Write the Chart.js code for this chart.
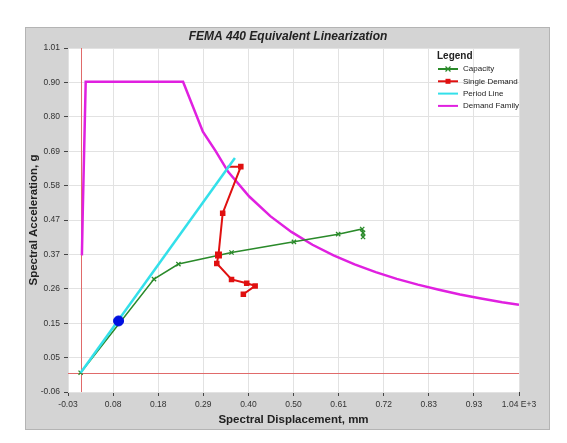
<!DOCTYPE html>
<html>
<head>
<meta charset="utf-8">
<script src="https://cdn.jsdelivr.net/npm/chart.js@4/dist/chart.umd.min.js"></script>
<style>
  html, body { margin: 0; padding: 0; background: #fff; }
  #c { display: block; }
</style>
</head>
<body>
<canvas id="c" width="567" height="443"></canvas>
<script>
// values
const xTickLabels = ['-0.03', '0.08', '0.18', '0.29', '0.40', '0.50', '0.61', '0.72', '0.83', '0.93', '1.04 E+3'];
const yTickLabels = ['-0.06', '0.05', '0.15', '0.26', '0.37', '0.47', '0.58', '0.69', '0.80', '0.90', '1.01'];

const capacityX = [0, 0.174, 0.232, 0.358, 0.506, 0.611, 0.668, 0.670, 0.670];
const capacityY = [0, 0.291, 0.338, 0.374, 0.407, 0.431, 0.447, 0.435, 0.422];

const demandX = [0.348, 0.380, 0.337, 0.327, 0.323, 0.358, 0.394, 0.414, 0.386];
const demandY = [0.641, 0.641, 0.496, 0.366, 0.340, 0.290, 0.278, 0.270, 0.244];

const periodX = [0, 0.366];
const periodY = [0, 0.668];

const perfX = [0.09];
const perfY = [0.161];

const familyX = [0.003, 0.005, 0.012, 0.243, 0.29, 0.32, 0.35, 0.40, 0.45, 0.50, 0.55, 0.60, 0.65, 0.70, 0.75, 0.80, 0.85, 0.90, 0.95, 1.00, 1.04];
const familyY = [0.365, 0.50, 0.905, 0.905, 0.75, 0.69, 0.625, 0.548, 0.487, 0.438, 0.398, 0.365, 0.337, 0.313, 0.292, 0.274, 0.258, 0.243, 0.231, 0.219, 0.211];

const xMin = -0.03, xMax = 1.04;
const yMin = -0.06, yMax = 1.01;

const toPoints = (xs, ys) => xs.map((x, i) => ({ x: x, y: ys[i] }));
const FONT = "'Liberation Sans', Arial, sans-serif";

const GREEN = '#2a8a2a', RED = '#e01010', CYAN = '#33e0ea', MAGENTA = '#e020e0';

const frame = {
    id: 'frame',
    beforeDraw(chart) {
        const ctx = chart.ctx, a = chart.chartArea;
        ctx.save();
        ctx.fillStyle = '#ffffff';
        ctx.fillRect(0, 0, chart.width, chart.height);
        ctx.fillStyle = '#d4d4d4';
        ctx.fillRect(25, 27, 525, 403);
        ctx.strokeStyle = '#b4b4b4';
        ctx.lineWidth = 1;
        ctx.strokeRect(25.5, 27.5, 524, 402);
        ctx.fillStyle = '#ffffff';
        ctx.fillRect(a.left, a.top, a.right - a.left, a.bottom - a.top);
        ctx.restore();
    },
    beforeDatasetsDraw(chart) {
        // red zero lines
        const ctx = chart.ctx, a = chart.chartArea;
        const x0 = Math.round(chart.scales.x.getPixelForValue(0)) + 0.5;
        const y0 = Math.round(chart.scales.y.getPixelForValue(0)) + 0.5;
        ctx.save();
        ctx.strokeStyle = '#e06a6a';
        ctx.lineWidth = 1;
        ctx.beginPath();
        ctx.moveTo(x0, a.top); ctx.lineTo(x0, a.bottom);
        ctx.moveTo(a.left, y0); ctx.lineTo(a.right, y0);
        ctx.stroke();
        ctx.restore();
    },
    afterDraw(chart) {
        const ctx = chart.ctx, a = chart.chartArea;
        ctx.save();
        ctx.fillStyle = '#222';
        ctx.textAlign = 'center';
        ctx.textBaseline = 'middle';
        ctx.font = 'italic bold 12px ' + FONT;
        ctx.fillText('FEMA 440 Equivalent Linearization', 288, 37);
        ctx.font = 'bold 11.5px ' + FONT;
        ctx.fillText('Spectral Displacement, mm', (a.left + a.right) / 2, 420);
        ctx.translate(34, (a.top + a.bottom) / 2);
        ctx.rotate(-Math.PI / 2);
        ctx.fillText('Spectral Acceleration, g', 0, 0);
        ctx.restore();

        // legend
        ctx.save();
        ctx.textAlign = 'left';
        ctx.textBaseline = 'middle';
        ctx.fillStyle = '#222';
        ctx.font = 'bold 10px ' + FONT;
        ctx.fillText('Legend', 437, 56);
        ctx.font = '8px ' + FONT;
        chart.data.datasets.slice(0, 4).forEach((ds, i) => {
            const y = 69 + i * 12.3;
            ctx.strokeStyle = ds.borderColor;
            ctx.lineWidth = 2;
            ctx.beginPath();
            ctx.moveTo(438, y); ctx.lineTo(458, y);
            ctx.stroke();
            if (ds.pointStyle === 'crossRot') {
                ctx.lineWidth = 1.2;
                ctx.beginPath();
                ctx.moveTo(445.5, y - 2.5); ctx.lineTo(450.5, y + 2.5);
                ctx.moveTo(445.5, y + 2.5); ctx.lineTo(450.5, y - 2.5);
                ctx.stroke();
            } else if (ds.pointStyle === 'rect') {
                ctx.fillStyle = ds.borderColor;
                ctx.fillRect(445.5, y - 2.5, 5, 5);
            }
            ctx.fillStyle = '#222';
            ctx.fillText(ds.label, 463, y);
        });
        ctx.restore();
    }
};

function evenTicks(min, max) {
    return scale => {
        scale.ticks = [];
        for (let i = 0; i <= 10; i++) scale.ticks.push({ value: min + i * (max - min) / 10 });
    };
}

new Chart(document.getElementById('c'), {
    type: 'scatter',
    data: {
        datasets: [
            {
                label: 'Capacity',
                data: toPoints(capacityX, capacityY),
                showLine: true,
                borderColor: GREEN,
                backgroundColor: GREEN,
                borderWidth: 1.5,
                pointStyle: 'crossRot',
                pointRadius: 3,
                pointBorderWidth: 1.3,
                order: 3
            },
            {
                label: 'Single Demand',
                data: toPoints(demandX, demandY),
                showLine: true,
                borderColor: RED,
                backgroundColor: RED,
                borderWidth: 2,
                pointStyle: 'rect',
                pointRadius: [0, 2.5, 2.5, 3.5, 2.5, 2.5, 2.5, 2.5, 2.5],
                order: 2
            },
            {
                label: 'Period Line',
                data: toPoints(periodX, periodY),
                showLine: true,
                borderColor: CYAN,
                backgroundColor: CYAN,
                borderWidth: 2.5,
                pointRadius: 0,
                order: 1
            },
            {
                label: 'Demand Family',
                data: toPoints(familyX, familyY),
                showLine: true,
                borderColor: MAGENTA,
                backgroundColor: MAGENTA,
                borderWidth: 2.5,
                pointRadius: 0,
                order: 4
            },
            {
                label: 'Performance Point',
                data: toPoints(perfX, perfY),
                showLine: false,
                borderColor: '#0010e0',
                backgroundColor: '#0010e0',
                pointRadius: 5,
                order: 0
            }
        ]
    },
    options: {
        responsive: false,
        animation: false,
        layout: { padding: { left: 0, top: 48, right: 48, bottom: 0 } },
        plugins: {
            legend: { display: false },
            title: { display: false },
            tooltip: { enabled: false }
        },
        scales: {
            x: {
                type: 'linear',
                min: xMin,
                max: xMax,
                afterBuildTicks: evenTicks(xMin, xMax),
                afterFit: s => { s.height = 51; },
                border: { display: false },
                grid: { color: '#e2e2e2', tickColor: '#444', tickLength: 4 },
                ticks: {
                    font: { family: FONT, size: 8.5 },
                    color: '#333',
                    padding: 4,
                    maxRotation: 0,
                    callback: (v, i) => xTickLabels[i]
                }
            },
            y: {
                type: 'linear',
                min: yMin,
                max: yMax,
                afterBuildTicks: evenTicks(yMin, yMax),
                afterFit: s => { s.width = 68; },
                border: { display: false },
                grid: { color: '#e2e2e2', tickColor: '#444', tickLength: 4 },
                ticks: {
                    font: { family: FONT, size: 8.5 },
                    color: '#333',
                    padding: 4,
                    callback: (v, i) => yTickLabels[i]
                }
            }
        }
    },
    plugins: [frame]
});
</script>
</body>
</html>
